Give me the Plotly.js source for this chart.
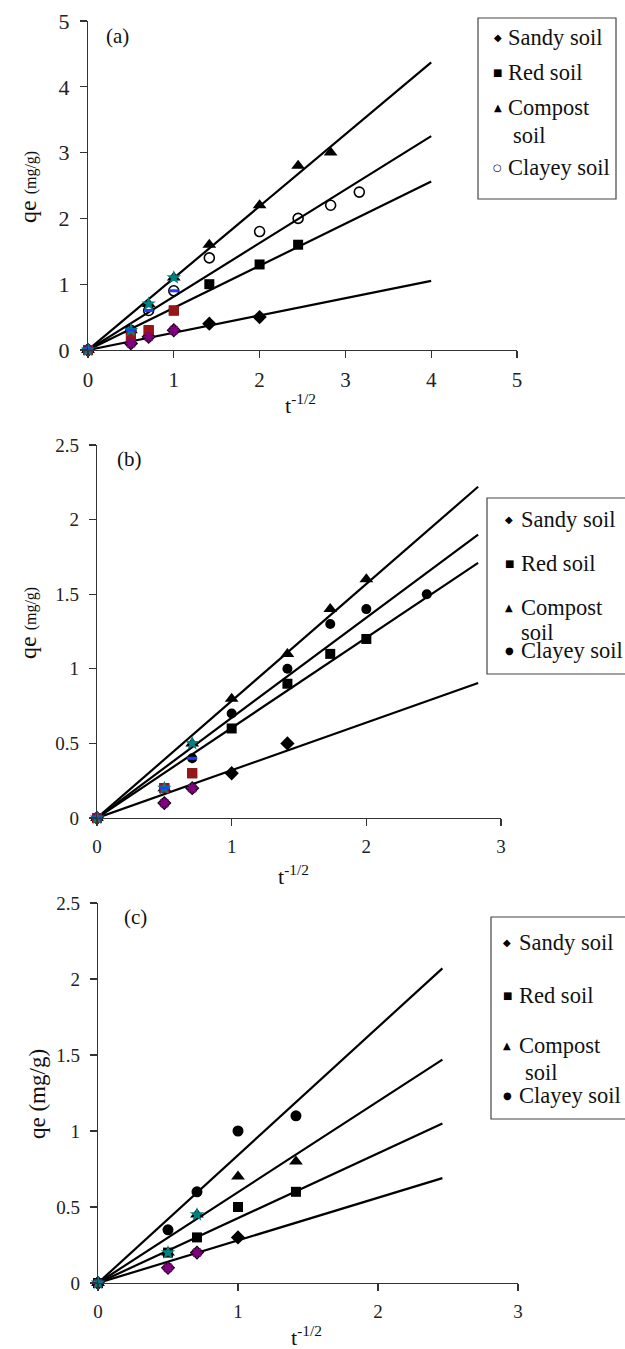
<!DOCTYPE html>
<html>
<head>
<meta charset="utf-8">
<script src="https://cdn.plot.ly/plotly-3.0.1.min.js"></script>
<style>html,body{margin:0;padding:0;background:#fff;}#chart{width:625px;height:1349px;}</style>
</head>
<body>
<div id="chart"></div>
<script>
// ---------- DATA ----------
const seriesNames = ["Sandy soil", "Red soil", "Compost soil", "Clayey soil"];

// Panel (a)
const aSandyX = [0, 0.5, 0.707, 1, 1.414, 2];
const aSandyY = [0, 0.1, 0.2, 0.3, 0.4, 0.5];
const aRedX = [0, 0.5, 0.707, 1, 1.414, 2, 2.449];
const aRedY = [0, 0.2, 0.3, 0.6, 1.0, 1.3, 1.6];
const aCompostX = [0, 0.5, 0.707, 1, 1.414, 2, 2.449, 2.828];
const aCompostY = [0, 0.3, 0.7, 1.1, 1.6, 2.2, 2.8, 3.0];
const aClayeyX = [0, 0.5, 0.707, 1, 1.414, 2, 2.449, 2.828, 3.162];
const aClayeyY = [0, 0.3, 0.6, 0.9, 1.4, 1.8, 2.0, 2.2, 2.4];
const aFitX = [0, 4];
const aFitSandy = [0, 1.05];
const aFitRed = [0, 2.56];
const aFitCompost = [0, 4.37];
const aFitClayey = [0, 3.25];

// Panel (b)
const bSandyX = [0, 0.5, 0.707, 1, 1.414];
const bSandyY = [0, 0.1, 0.2, 0.3, 0.5];
const bRedX = [0, 0.5, 0.707, 1, 1.414, 1.732, 2];
const bRedY = [0, 0.2, 0.3, 0.6, 0.9, 1.1, 1.2];
const bCompostX = [0, 0.5, 0.707, 1, 1.414, 1.732, 2];
const bCompostY = [0, 0.2, 0.5, 0.8, 1.1, 1.4, 1.6];
const bClayeyX = [0, 0.5, 0.707, 1, 1.414, 1.732, 2, 2.449];
const bClayeyY = [0, 0.2, 0.4, 0.7, 1.0, 1.3, 1.4, 1.5];
const bFitX = [0, 2.83];
const bFitSandy = [0, 0.905];
const bFitRed = [0, 1.71];
const bFitCompost = [0, 2.22];
const bFitClayey = [0, 1.90];

// Panel (c)
const cSandyX = [0, 0.5, 0.707, 1];
const cSandyY = [0, 0.1, 0.2, 0.3];
const cRedX = [0, 0.5, 0.707, 1, 1.414];
const cRedY = [0, 0.2, 0.3, 0.5, 0.6];
const cCompostX = [0, 0.5, 0.707, 1, 1.414];
const cCompostY = [0, 0.2, 0.45, 0.7, 0.8];
const cClayeyX = [0, 0.5, 0.707, 1, 1.414];
const cClayeyY = [0, 0.35, 0.6, 1.0, 1.1];
const cFitX = [0, 2.46];
const cFitSandy = [0, 0.69];
const cFitRed = [0, 1.05];
const cFitCompost = [0, 1.47];
const cFitClayey = [0, 2.07];

// tick labels
const aXTicks = [0, 1, 2, 3, 4, 5];
const aYTicks = [0, 1, 2, 3, 4, 5];
const bcXTicks = [0, 1, 2, 3];
const bcYTicks = [0, 0.5, 1, 1.5, 2, 2.5];

// number of early points that carry an extra coloured marker
const aEarly = 4, bEarly = 3, cEarly = 3;

// ---------- STYLE ----------
const W = 625, H = 1349;
const px = v => v / W;
const py = v => 1 - v / H;
const SERIF = "Liberation Serif";
const BLACK = "#000";
const COL = {purple: "#800080", maroon: "#9a1616", teal: "#008080", blue: "#1f3cff"};

const traces = [];
function fit(ax, fx, fy) {
  traces.push({x: fx, y: fy, xaxis: ax[0], yaxis: ax[1], mode: "lines",
    line: {color: BLACK, width: 2.2}, showlegend: false, hoverinfo: "skip"});
}
function pts(ax, x, y, sym, size, open) {
  traces.push({x: x, y: y, xaxis: ax[0], yaxis: ax[1], mode: "markers", cliponaxis: false,
    marker: {symbol: sym, size: size, color: BLACK,
      line: {color: BLACK, width: open ? 1.6 : 0}}, showlegend: false});
}
function early(ax, x, y, n, kind) {
  const xs = x.slice(0, n), ys = y.slice(0, n);
  let m;
  if (kind === "purple") m = {symbol: "asterisk-open", size: 9, color: COL.purple, line: {color: COL.purple, width: 2.4}};
  if (kind === "maroon") m = {symbol: "square", size: 10, color: COL.maroon, line: {width: 0}};
  if (kind === "teal") m = {symbol: "star", size: 11, color: COL.teal, line: {width: 0}};
  if (kind === "blue") m = {symbol: "line-ew-open", size: 7, color: COL.blue, line: {color: COL.blue, width: 3}};
  traces.push({x: xs, y: ys, xaxis: ax[0], yaxis: ax[1], mode: "markers", cliponaxis: false,
    marker: m, showlegend: false});
}

// Panel (a)
const A = ["x", "y"];
fit(A, aFitX, aFitSandy); fit(A, aFitX, aFitRed); fit(A, aFitX, aFitCompost); fit(A, aFitX, aFitClayey);
pts(A, aSandyX, aSandyY, "diamond", 11, false);
pts(A, aRedX, aRedY, "square", 10, false);
pts(A, aCompostX, aCompostY, "triangle-up", 12, false);
pts(A, aClayeyX, aClayeyY, "circle-open", 10, true);
early(A, aRedX, aRedY, aEarly, "maroon");
early(A, aSandyX, aSandyY, aEarly, "purple");
early(A, aCompostX, aCompostY, aEarly, "teal");
early(A, aClayeyX, aClayeyY, aEarly, "blue");

// Panel (b)
const B = ["x2", "y2"];
fit(B, bFitX, bFitSandy); fit(B, bFitX, bFitRed); fit(B, bFitX, bFitCompost); fit(B, bFitX, bFitClayey);
pts(B, bSandyX, bSandyY, "diamond", 11, false);
pts(B, bRedX, bRedY, "square", 10, false);
pts(B, bCompostX, bCompostY, "triangle-up", 12, false);
pts(B, bClayeyX, bClayeyY, "circle", 10, false);
early(B, bRedX, bRedY, bEarly, "maroon");
early(B, bSandyX, bSandyY, bEarly, "purple");
early(B, bCompostX, bCompostY, bEarly, "teal");
early(B, bClayeyX, bClayeyY, bEarly, "blue");

// Panel (c)
const C = ["x3", "y3"];
fit(C, cFitX, cFitSandy); fit(C, cFitX, cFitRed); fit(C, cFitX, cFitCompost); fit(C, cFitX, cFitClayey);
pts(C, cSandyX, cSandyY, "diamond", 11, false);
pts(C, cRedX, cRedY, "square", 10, false);
pts(C, cCompostX, cCompostY, "triangle-up", 12, false);
pts(C, cClayeyX, cClayeyY, "circle", 11, false);
early(C, cSandyX, cSandyY, cEarly, "purple");
early(C, cCompostX, cCompostY, cEarly, "teal");

function xax(dom, range, ticks, fs, anchor) {
  return {domain: dom, range: range, anchor: anchor, tickvals: ticks, ticktext: ticks.map(String),
    showline: true, linecolor: "#333", linewidth: 1.2, ticks: "outside", ticklen: 7, tickcolor: "#333",
    tickwidth: 1.2, showgrid: false, zeroline: false, tickfont: {family: SERIF, size: fs, color: "#222"},
    ticklabelstandoff: 4, fixedrange: true};
}
function yax(dom, range, ticks, fs, anchor) {
  return {domain: dom, range: range, anchor: anchor, tickvals: ticks, ticktext: ticks.map(String),
    showline: true, linecolor: "#333", linewidth: 1.2, ticks: "outside", ticklen: 7, tickcolor: "#333",
    tickwidth: 1.2, showgrid: false, zeroline: false, tickfont: {family: SERIF, size: fs, color: "#222"},
    ticklabelstandoff: 6, fixedrange: true};
}

const ann = [];
const shapes = [];
function txt(x, y, t, size, opts) {
  ann.push(Object.assign({x: px(x), y: py(y), xref: "paper", yref: "paper", text: t, showarrow: false,
    xanchor: "left", yanchor: "middle", font: {family: SERIF, size: size, color: "#111"}}, opts || {}));
}
function sym(x, y, ch, size) {
  ann.push({x: px(x), y: py(y), xref: "paper", yref: "paper", text: ch, showarrow: false,
    xanchor: "center", yanchor: "middle", font: {family: "DejaVu Sans", size: size, color: "#000"}});
}
function box(x0, y0, x1, y1) {
  shapes.push({type: "rect", xref: "paper", yref: "paper", x0: px(x0), x1: px(x1), y0: py(y1), y1: py(y0),
    line: {color: "#444", width: 1.2}, fillcolor: "rgba(0,0,0,0)"});
}

// panel labels
txt(104, 36, "(a)", 21);
txt(115, 459, "(b)", 21);
txt(122, 917, "(c)", 21);

// axis titles
const yT1 = "qe <span style='font-size:16px'>(mg/g)</span>";
txt(28, 187, yT1, 24, {textangle: -90, xanchor: "center"});
txt(28, 623, yT1, 24, {textangle: -90, xanchor: "center"});
txt(37, 1094, "qe (mg/g)", 23, {textangle: -90, xanchor: "center"});
const xT = "t<sup>-1/2</sup>";
txt(300, 404, xT, 22, {xanchor: "center"});
txt(293, 875, xT, 22, {xanchor: "center"});
txt(306, 1336, xT, 22, {xanchor: "center"});

// legends
const legFs = 22.5;
box(478, 18, 616, 199);
const aLegY = [38, 72, 107, 168];
const aSym = ["\u25C6", "\u25A0", "\u25B2", "\u25CB"];
for (let i = 0; i < 4; i++) {
  sym(498, aLegY[i], aSym[i], 10);
  txt(506, aLegY[i], i === 2 ? "Compost" : seriesNames[i], legFs);
}
txt(511, 135, "soil", legFs);

box(487, 498, 640, 674);
const bLegY = [519, 563, 607, 650];
const bSym = ["\u25C6", "\u25A0", "\u25B2", "\u25CF"];
for (let i = 0; i < 4; i++) {
  sym(509, bLegY[i], bSym[i], 10);
  txt(519, bLegY[i], i === 2 ? "Compost" : seriesNames[i], legFs);
}
txt(519, 632, "soil", legFs);

box(491, 917, 640, 1119);
const cLegY = [943, 995, 1045, 1095];
for (let i = 0; i < 4; i++) {
  sym(507, cLegY[i], bSym[i], 10);
  txt(517, cLegY[i], i === 2 ? "Compost" : seriesNames[i], legFs);
}
txt(523, 1072, "soil", legFs);

const layout = {
  width: W, height: H, autosize: false, showlegend: false,
  margin: {l: 0, r: 0, t: 0, b: 0, pad: 0},
  paper_bgcolor: "#fff", plot_bgcolor: "#fff",
  xaxis: xax([px(88), px(517)], [0, 5], aXTicks, 21, "y"),
  yaxis: yax([py(350), py(21)], [0, 5], aYTicks, 22, "x"),
  xaxis2: xax([px(97), px(501)], [0, 3], bcXTicks, 19, "y2"),
  yaxis2: yax([py(818), py(445)], [0, 2.5], bcYTicks, 19, "x2"),
  xaxis3: xax([px(98), px(518)], [0, 3], bcXTicks, 19, "y3"),
  yaxis3: yax([py(1283), py(903)], [0, 2.5], bcYTicks, 19, "x3"),
  annotations: ann, shapes: shapes
};
Plotly.newPlot("chart", traces, layout, {staticPlot: true, displayModeBar: false});
</script>
</body>
</html>
